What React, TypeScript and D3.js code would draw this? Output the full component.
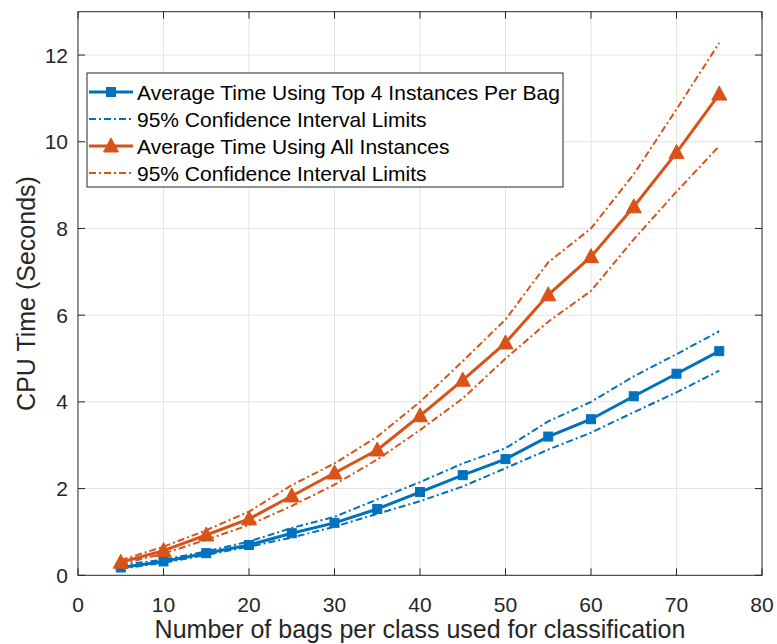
import React from "react";
import { scaleLinear, line } from "d3";

const width = 777;
const height = 644;

const bags = [5, 10, 15, 20, 25, 30, 35, 40, 45, 50, 55, 60, 65, 70, 75];
const topAvg = [0.18, 0.32, 0.51, 0.7, 0.97, 1.21, 1.53, 1.92, 2.31, 2.68, 3.2, 3.6, 4.13, 4.65, 5.17];
const topUpper = [0.24, 0.36, 0.55, 0.78, 1.09, 1.35, 1.75, 2.15, 2.58, 2.93, 3.55, 4.0, 4.59, 5.1, 5.63];
const topLower = [0.15, 0.29, 0.47, 0.66, 0.87, 1.12, 1.42, 1.71, 2.05, 2.47, 2.9, 3.29, 3.76, 4.22, 4.72];
const allAvg = [0.3, 0.57, 0.93, 1.3, 1.83, 2.36, 2.89, 3.68, 4.5, 5.36, 6.47, 7.35, 8.5, 9.75, 11.1];
const allUpper = [0.35, 0.66, 1.04, 1.47, 2.08, 2.58, 3.2, 4.0, 4.94, 5.9, 7.22, 8.0, 9.25, 10.75, 12.28];
const allLower = [0.26, 0.5, 0.82, 1.16, 1.6, 2.09, 2.67, 3.35, 4.08, 5.0, 5.85, 6.56, 7.75, 8.85, 9.9];

const xTicks = [0, 10, 20, 30, 40, 50, 60, 70, 80];
const yTicks = [0, 2, 4, 6, 8, 10, 12];

const legendLabels = [
  "Average Time Using Top 4 Instances Per Bag",
  "95% Confidence Interval Limits",
  "Average Time Using All Instances",
  "95% Confidence Interval Limits",
];

const blue = "#0072BD";
const orange = "#D95319";
const axisColor = "#262626";
const font = "'Liberation Sans', Arial, Helvetica, sans-serif";
const dashDot = "7 3 2 3";

const x = scaleLinear().domain([0, 80]).range([78, 762]);
const y = scaleLinear().domain([0, 13]).range([575.3, 11.7]);

const makeLine = (vals: number[]) =>
  line<number>()
    .x((_, i) => x(bags[i]))
    .y((d) => y(d))(vals) || "";

const Square = ({ cx, cy, color }: { cx: number; cy: number; color: string }) => (
  <rect x={cx - 4.5} y={cy - 4.5} width={9} height={9} fill={color} stroke={color} strokeWidth={1} />
);

const Triangle = ({ cx, cy, color }: { cx: number; cy: number; color: string }) => (
  <path d={`M${cx},${cy - 8} L${cx + 7.5},${cy + 6} L${cx - 7.5},${cy + 6} Z`} fill={color} stroke={color} strokeWidth={1} />
);

const App = () => {
  const [x0, x1] = x.range();
  const [y0, y1] = y.range();
  const tickLen = 7;

  const legendX = 87;
  const legendY = 73;
  const rowY = [92, 119, 146, 173];

  return (
    <svg
      width={width}
      height={height}
      style={{ position: "absolute", left: 0, top: 0, background: "#fff" }}
      fontFamily={font}
    >
      {/* grid */}
      <g stroke="#e3e3e3" strokeWidth={1}>
        {xTicks.slice(1, -1).map((t) => (
          <line key={"gx" + t} x1={x(t)} x2={x(t)} y1={y0} y2={y1} />
        ))}
        {yTicks.slice(1).map((t) => (
          <line key={"gy" + t} x1={x0} x2={x1} y1={y(t)} y2={y(t)} />
        ))}
      </g>

      {/* series: top 4 instances */}
      <path d={makeLine(topUpper)} fill="none" stroke={blue} strokeWidth={2} strokeDasharray={dashDot} />
      <path d={makeLine(topLower)} fill="none" stroke={blue} strokeWidth={2} strokeDasharray={dashDot} />
      <path d={makeLine(topAvg)} fill="none" stroke={blue} strokeWidth={3} />
      {topAvg.map((v, i) => (
        <Square key={"s" + i} cx={x(bags[i])} cy={y(v)} color={blue} />
      ))}

      {/* series: all instances */}
      <path d={makeLine(allUpper)} fill="none" stroke={orange} strokeWidth={2} strokeDasharray={dashDot} />
      <path d={makeLine(allLower)} fill="none" stroke={orange} strokeWidth={2} strokeDasharray={dashDot} />
      <path d={makeLine(allAvg)} fill="none" stroke={orange} strokeWidth={3} />
      {allAvg.map((v, i) => (
        <Triangle key={"t" + i} cx={x(bags[i])} cy={y(v)} color={orange} />
      ))}

      {/* axes box and ticks */}
      <rect x={x0} y={y1} width={x1 - x0} height={y0 - y1} fill="none" stroke={axisColor} strokeWidth={1} />
      <g stroke={axisColor} strokeWidth={1}>
        {xTicks.map((t) => (
          <g key={"tx" + t}>
            <line x1={x(t)} x2={x(t)} y1={y0} y2={y0 - tickLen} />
            <line x1={x(t)} x2={x(t)} y1={y1} y2={y1 + tickLen} />
          </g>
        ))}
        {yTicks.map((t) => (
          <g key={"ty" + t}>
            <line x1={x0} x2={x0 + tickLen} y1={y(t)} y2={y(t)} />
            <line x1={x1} x2={x1 - tickLen} y1={y(t)} y2={y(t)} />
          </g>
        ))}
      </g>
      <g fill={axisColor} fontSize={21}>
        {xTicks.map((t) => (
          <text key={"lx" + t} x={x(t)} y={612} textAnchor="middle">
            {t}
          </text>
        ))}
        {yTicks.map((t) => (
          <text key={"ly" + t} x={68} y={y(t)} textAnchor="end" dominantBaseline="central">
            {t}
          </text>
        ))}
      </g>
      <text x={(x0 + x1) / 2} y={638} textAnchor="middle" fontSize={25} fill={axisColor}>
        Number of bags per class used for classification
      </text>
      <text
        transform={`translate(35, ${(y0 + y1) / 2}) rotate(-90)`}
        textAnchor="middle"
        fontSize={25}
        fill={axisColor}
      >
        CPU Time (Seconds)
      </text>

      {/* legend */}
      <rect x={legendX} y={legendY} width={476} height={114} fill="#fff" stroke={axisColor} strokeWidth={1} />
      <g>
        <line x1={89} x2={133} y1={rowY[0]} y2={rowY[0]} stroke={blue} strokeWidth={3} />
        <Square cx={111} cy={rowY[0]} color={blue} />
        <line x1={89} x2={133} y1={rowY[1]} y2={rowY[1]} stroke={blue} strokeWidth={2} strokeDasharray={dashDot} />
        <line x1={89} x2={133} y1={rowY[2]} y2={rowY[2]} stroke={orange} strokeWidth={3} />
        <Triangle cx={111} cy={rowY[2]} color={orange} />
        <line x1={89} x2={133} y1={rowY[3]} y2={rowY[3]} stroke={orange} strokeWidth={2} strokeDasharray={dashDot} />
        {legendLabels.map((l, i) => (
          <text key={"lg" + i} x={137} y={rowY[i]} dominantBaseline="central" fontSize={21} fill="#000">
            {l}
          </text>
        ))}
      </g>
    </svg>
  );
};

export default App;
